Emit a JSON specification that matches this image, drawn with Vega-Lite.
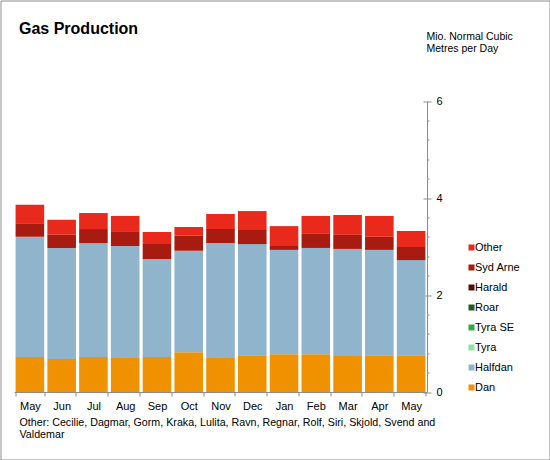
{
  "$schema": "https://vega.github.io/schema/vega-lite/v6.json",
  "width": 549,
  "height": 459,
  "autosize": "none",
  "padding": 0.5,
  "background": "white",
  "view": {"stroke": "#8c8c8c", "strokeWidth": 1, "fill": "white"},
  "config": {
    "font": "Liberation Sans",
    "view": {"stroke": "#8c8c8c", "strokeWidth": 1},
    "axis": {
      "labelFont": "Liberation Sans",
      "titleFont": "Liberation Sans",
      "labelColor": "#000000",
      "titleColor": "#000000",
      "domainColor": "#8c8c8c",
      "tickColor": "#8c8c8c",
      "grid": false,
      "labelFontSize": 11,
      "titleFontSize": 11,
      "titleFontWeight": "normal"
    }
  },
  "title": {
    "text": "Gas Production",
    "anchor": "start",
    "frame": "group",
    "fontSize": 16,
    "fontWeight": "bold",
    "font": "Liberation Sans",
    "color": "#000000",
    "offset": 0,
    "dx": 18.5,
    "dy": 49,
    "baseline": "alphabetic"
  },
  "data": {
    "values": [
      {"month": "May (1)", "series": "Dan", "value": 0.72},
      {"month": "May (1)", "series": "Halfdan", "value": 2.48},
      {"month": "May (1)", "series": "Syd Arne", "value": 0.28},
      {"month": "May (1)", "series": "Other", "value": 0.38},
      {"month": "Jun", "series": "Dan", "value": 0.68},
      {"month": "Jun", "series": "Halfdan", "value": 2.29},
      {"month": "Jun", "series": "Syd Arne", "value": 0.27},
      {"month": "Jun", "series": "Other", "value": 0.31},
      {"month": "Jul", "series": "Dan", "value": 0.72},
      {"month": "Jul", "series": "Halfdan", "value": 2.35},
      {"month": "Jul", "series": "Syd Arne", "value": 0.29},
      {"month": "Jul", "series": "Other", "value": 0.33},
      {"month": "Aug", "series": "Dan", "value": 0.70},
      {"month": "Aug", "series": "Halfdan", "value": 2.31},
      {"month": "Aug", "series": "Syd Arne", "value": 0.29},
      {"month": "Aug", "series": "Other", "value": 0.33},
      {"month": "Sep", "series": "Dan", "value": 0.72},
      {"month": "Sep", "series": "Halfdan", "value": 2.02},
      {"month": "Sep", "series": "Syd Arne", "value": 0.31},
      {"month": "Sep", "series": "Other", "value": 0.25},
      {"month": "Oct", "series": "Dan", "value": 0.82},
      {"month": "Oct", "series": "Halfdan", "value": 2.09},
      {"month": "Oct", "series": "Syd Arne", "value": 0.31},
      {"month": "Oct", "series": "Other", "value": 0.18},
      {"month": "Nov", "series": "Dan", "value": 0.70},
      {"month": "Nov", "series": "Halfdan", "value": 2.37},
      {"month": "Nov", "series": "Syd Arne", "value": 0.29},
      {"month": "Nov", "series": "Other", "value": 0.31},
      {"month": "Dec", "series": "Dan", "value": 0.76},
      {"month": "Dec", "series": "Halfdan", "value": 2.29},
      {"month": "Dec", "series": "Syd Arne", "value": 0.29},
      {"month": "Dec", "series": "Other", "value": 0.39},
      {"month": "Jan", "series": "Dan", "value": 0.78},
      {"month": "Jan", "series": "Halfdan", "value": 2.15},
      {"month": "Jan", "series": "Syd Arne", "value": 0.08},
      {"month": "Jan", "series": "Other", "value": 0.41},
      {"month": "Feb", "series": "Dan", "value": 0.78},
      {"month": "Feb", "series": "Halfdan", "value": 2.19},
      {"month": "Feb", "series": "Syd Arne", "value": 0.29},
      {"month": "Feb", "series": "Other", "value": 0.37},
      {"month": "Mar", "series": "Dan", "value": 0.74},
      {"month": "Mar", "series": "Halfdan", "value": 2.21},
      {"month": "Mar", "series": "Syd Arne", "value": 0.29},
      {"month": "Mar", "series": "Other", "value": 0.41},
      {"month": "Apr", "series": "Dan", "value": 0.76},
      {"month": "Apr", "series": "Halfdan", "value": 2.17},
      {"month": "Apr", "series": "Syd Arne", "value": 0.27},
      {"month": "Apr", "series": "Other", "value": 0.43},
      {"month": "May (2)", "series": "Dan", "value": 0.76},
      {"month": "May (2)", "series": "Halfdan", "value": 1.96},
      {"month": "May (2)", "series": "Syd Arne", "value": 0.27},
      {"month": "May (2)", "series": "Other", "value": 0.33}
    ]
  },
  "layer": [
    {
      "transform": [
        {"calculate": "indexof(['Dan','Halfdan','Tyra','Tyra SE','Roar','Harald','Syd Arne','Other'], datum.series)", "as": "stackOrder"}
      ],
      "mark": {"type": "bar"},
      "encoding": {
        "x": {
          "field": "month",
          "type": "nominal",
          "sort": null,
          "scale": {"range": [13.5, 426.5], "paddingInner": 0.1, "paddingOuter": 0.05},
          "axis": {
            "orient": "bottom",
            "offset": -67.5,
            "labelAngle": 0,
            "labelExpr": "slice(datum.label, 0, 3)",
            "tickBand": "extent",
            "tickSize": 4,
            "labelPadding": 4,
            "title": ["Other: Cecilie, Dagmar, Gorm, Kraka, Lulita, Ravn, Regnar, Rolf, Siri, Skjold, Svend and", "Valdemar"],
            "titleFontSize": 10.7,
            "titleAnchor": "start",
            "titleAlign": "left",
            "titleBaseline": "alphabetic",
            "titleX": 18.5,
            "titleY": 33,
            "titleLineHeight": 12.5
          }
        },
        "y": {
          "field": "value",
          "type": "quantitative",
          "stack": "zero",
          "scale": {"domain": [0, 6], "range": [391.5, 100.5], "nice": false},
          "axis": {
            "orient": "right",
            "offset": -122.5,
            "values": [0, 2, 4, 6],
            "tickSize": 4,
            "labelPadding": 5,
            "labelBaseline": "middle",
            "title": ["Mio. Normal Cubic", "Metres per Day"],
            "titleFontSize": 10.5,
            "titleAngle": 0,
            "titleAlign": "left",
            "titleBaseline": "alphabetic",
            "titleX": -1,
            "titleY": 38.5,
            "titleLineHeight": 12
          }
        },
        "color": {
          "field": "series",
          "type": "nominal",
          "scale": {
            "domain": ["Other", "Syd Arne", "Harald", "Roar", "Tyra SE", "Tyra", "Halfdan", "Dan"],
            "range": ["#E8291B", "#A81B10", "#5C0C08", "#1E5C20", "#33A846", "#90E3A4", "#8FB4CC", "#F09100"]
          },
          "legend": {
            "orient": "none",
            "legendX": 465.5,
            "legendY": 241.5,
            "title": null,
            "symbolType": "square",
            "symbolSize": 36,
            "symbolStrokeWidth": 0,
            "labelFontSize": 11,
            "labelFont": "Liberation Sans",
            "labelColor": "#000000",
            "labelOffset": -2,
            "rowPadding": 8,
            "padding": 0
          }
        },
        "order": {"field": "stackOrder", "type": "quantitative"}
      }
    },
    {
      "data": {"values": [{"v": 0}]},
      "mark": {"type": "rule", "opacity": 0},
      "encoding": {
        "y": {
          "field": "v",
          "type": "quantitative",
          "axis": {
            "orient": "right",
            "offset": -122.5,
            "values": [0, 2, 4, 6],
            "tickSize": -4,
            "labels": false,
            "domain": false,
            "title": null
          }
        }
      }
    },
    {
      "data": {"values": [{"v": 0}]},
      "mark": {"type": "rule", "opacity": 0},
      "encoding": {
        "y": {
          "field": "v",
          "type": "quantitative",
          "axis": {
            "orient": "right",
            "offset": -122.5,
            "values": [0.4, 0.8, 1.2, 1.6, 2.4, 2.8, 3.2, 3.6, 4.4, 4.8, 5.2, 5.6],
            "tickSize": 2,
            "labels": false,
            "domain": false,
            "title": null
          }
        }
      }
    }
  ],
  "resolve": {"axis": {"y": "independent"}}
}
